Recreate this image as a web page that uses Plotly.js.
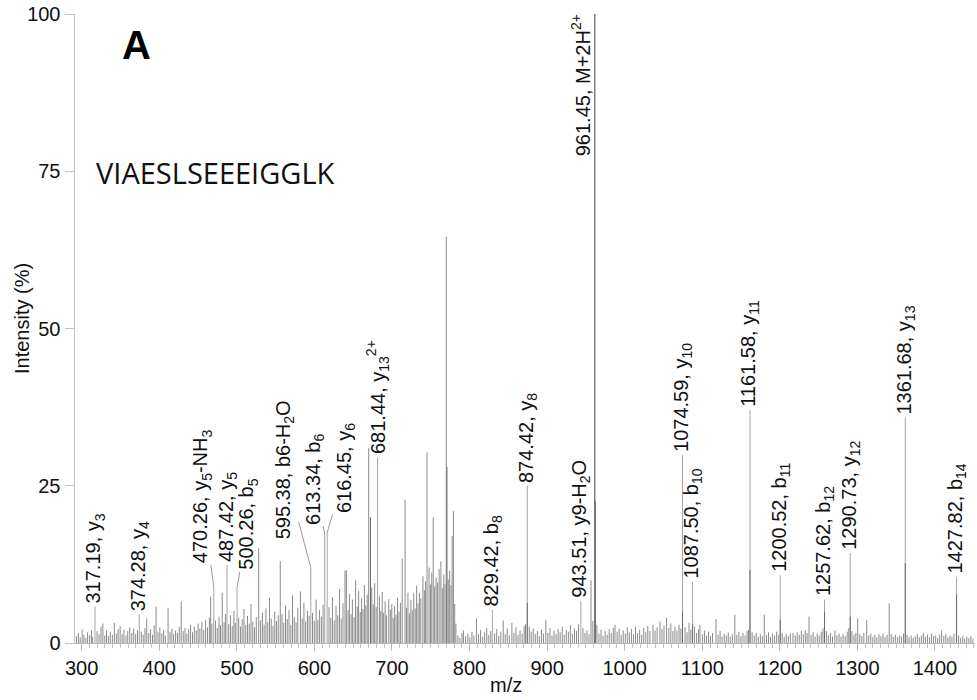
<!DOCTYPE html>
<html>
<head>
<meta charset="utf-8">
<script src="https://cdn.plot.ly/plotly-3.0.1.min.js"></script>
<style>
  html, body { margin: 0; padding: 0; background: #fff; }
  #chart { width: 977px; height: 700px; }
</style>
</head>
<body>
<div id="chart"></div>
<script>
// MS/MS spectrum of the doubly charged precursor of VIAESLSEEEIGGLK

const peptide = 'VIAESLSEEEIGGLK';
const panelTag = 'A';

// Annotated fragment ions (m/z, relative intensity %, ion name)
const ionMz = [317.19, 374.28, 470.26, 487.42, 500.26, 595.38, 613.34, 616.45, 681.44, 829.42, 874.42,
               943.51, 961.45, 1074.59, 1087.50, 1161.58, 1200.52, 1257.62, 1290.73, 1361.68, 1427.82];
const ionInt = [5.8, 4.6, 9.0, 12.4, 8.8, 12.0, 17.3, 17.5, 29.5, 5.3, 25.0,
                6.7, 100, 29.9, 9.7, 37.0, 10.8, 6.9, 14.3, 35.8, 10.5];
const ionName = ['y<sub>3</sub>', 'y<sub>4</sub>', 'y<sub>5</sub>-NH<sub>3</sub>', 'y<sub>5</sub>', 'b<sub>5</sub>',
                 'b6-H<sub>2</sub>O', 'b<sub>6</sub>', 'y<sub>6</sub>', 'y<sub>13</sub><sup>2+</sup>', 'b<sub>8</sub>',
                 'y<sub>8</sub>', 'y9-H<sub>2</sub>O', 'M+2H<sup>2+</sup>', 'y<sub>10</sub>', 'b<sub>10</sub>',
                 'y<sub>11</sub>', 'b<sub>11</sub>', 'b<sub>12</sub>', 'y<sub>12</sub>', 'y<sub>13</sub>', 'b<sub>14</sub>'];

// Centroided signal drawn over the profile
const centMz  = [672.3, 770.9, 874.42, 962.2, 1074.59, 1087.50, 1161.58, 1200.52, 1257.62, 1290.73, 1361.68, 1427.82];
const centInt = [20.0, 28.0, 6.4, 22.6, 5.0, 3.0, 11.6, 3.7, 5.0, 4.2, 12.7, 7.7];

// Unassigned signal (m/z, relative intensity %)
const otherMz = [
  293.2, 295.8, 298.1, 300.6, 302.9, 305.4, 307.7, 310.3, 312.6, 314.1, 319.8, 322.4, 324.9, 327.3, 329.8, 332.0,
  334.5, 336.9, 339.6, 342.1, 344.7, 347.0, 349.6, 352.2, 354.5, 357.1, 359.4, 362.0, 364.6, 367.1, 369.6, 372.0,
  376.9, 379.3, 381.6, 383.9, 386.4, 388.8, 391.3, 393.5, 395.9, 398.4, 400.8, 403.3, 405.7, 408.0, 411.4, 413.9,
  416.3, 418.6, 421.1, 423.5, 425.8, 428.3, 430.9, 433.2, 435.6, 438.0, 440.4, 442.9, 445.2, 447.7, 450.1, 452.4,
  454.9, 457.3, 459.8, 462.2, 464.6, 466.3,
  467.9, 472.6, 474.8, 477.1, 479.0, 481.2, 483.6, 485.3, 489.6, 491.8, 494.1, 496.3, 498.1, 502.4, 504.7, 506.9,
  509.2, 511.5, 513.8, 516.0, 518.3, 520.6, 522.9, 525.1, 528.2, 530.7, 533.0, 535.2, 537.5, 539.8, 542.1, 544.3,
  546.6, 548.9, 551.1, 553.4, 556.0, 558.3, 560.5, 562.8, 565.0, 567.3, 569.6, 571.8, 574.1, 576.4, 578.6, 582.0,
  584.2, 586.5, 588.8, 591.0, 593.2, 597.6, 599.9, 602.2, 604.4, 606.7, 609.0, 611.2, 618.8, 621.1, 623.3, 625.6,
  627.9, 630.1, 632.4, 634.6, 636.9, 639.5,
  641.2, 643.4, 645.1, 647.3, 649.0, 651.2, 653.1, 655.2, 657.0, 659.1, 660.8, 662.6, 664.5, 666.3, 668.1, 670.0,
  674.0, 675.9, 677.7, 679.6, 683.8, 685.6, 687.5, 689.3, 691.2, 693.0, 695.9, 697.9, 699.8, 701.6, 703.4, 705.3,
  707.2, 709.0, 710.9, 713.2, 716.9, 718.8, 720.6, 722.5, 724.4, 726.2, 728.1, 730.0, 731.8, 733.6, 735.3, 737.2,
  739.9, 741.8, 743.4, 745.2, 747.8, 749.6, 751.3, 753.2, 755.1, 756.9, 758.9, 760.8, 763.1, 764.9, 766.8, 768.4,
  770.0, 772.6, 774.4, 776.1, 777.6, 779.2, 780.9, 782.4,
  785.0, 787.6, 790.3, 792.1, 795.0, 797.8, 800.4, 803.1, 805.7, 808.9, 811.6, 814.2, 816.9, 819.5, 822.2, 824.8,
  827.3, 832.4, 835.0, 837.7, 840.3, 843.4, 846.0, 848.6, 851.3, 854.6, 857.2, 859.9, 862.5, 865.1, 867.8, 870.4,
  872.2, 877.0, 879.5, 882.1, 884.8, 887.4, 890.0, 892.7, 895.3, 898.4, 901.0, 903.7, 906.3, 908.9, 911.6, 914.2,
  916.8, 919.5, 922.1, 924.7, 927.4, 930.0, 932.6, 935.3, 937.9, 940.5, 946.2, 948.8, 951.4, 954.0, 956.6, 959.0,
  964.2, 966.8, 969.5, 972.1, 974.8, 977.4, 980.0, 982.7, 985.3, 987.5, 990.2, 992.8, 995.5, 998.1, 1000.8, 1003.4,
  1006.0, 1008.7, 1011.3, 1014.0, 1016.6, 1019.3, 1021.9, 1024.5, 1027.2, 1029.8, 1032.5, 1036.5, 1039.1, 1041.8,
  1045.5, 1048.1, 1050.7, 1054.0, 1056.9, 1059.5, 1062.2, 1064.8, 1067.4, 1070.1, 1072.5, 1077.9, 1080.4, 1083.0,
  1085.3, 1090.1, 1092.7, 1095.3, 1097.0, 1100.2, 1102.8, 1105.4, 1108.1, 1110.7, 1113.3, 1117.7, 1120.4, 1123.0,
  1125.6, 1128.3, 1130.9, 1133.5, 1136.2, 1138.8, 1142.0, 1144.6, 1147.3, 1149.9, 1152.5, 1155.2, 1157.8, 1159.6,
  1164.3, 1167.0, 1169.6, 1172.2, 1174.9, 1177.5, 1180.0, 1182.8, 1185.4, 1188.0, 1190.7, 1193.3, 1195.9, 1198.6,
  1203.0, 1205.6, 1208.2, 1210.9, 1213.5, 1217.0, 1219.8, 1222.4, 1225.0, 1227.7, 1230.3, 1232.9, 1235.2, 1237.6,
  1240.3, 1242.9, 1245.5, 1248.2, 1250.8, 1253.4, 1255.6, 1260.0, 1262.6, 1265.3, 1267.9, 1271.0, 1273.6, 1276.3,
  1278.9, 1281.5, 1284.2, 1286.8, 1288.9, 1293.0, 1295.6, 1298.0, 1300.4, 1303.0, 1305.7, 1308.3, 1312.0, 1314.6,
  1317.2, 1319.9, 1322.5, 1325.1, 1327.8, 1330.4, 1333.0, 1335.7, 1338.3, 1341.0, 1343.6, 1346.2, 1348.9, 1351.5,
  1354.1, 1356.8, 1359.4, 1364.0, 1366.6, 1369.3, 1371.9, 1374.5, 1377.2, 1379.8, 1382.4, 1385.1, 1387.7, 1390.3,
  1393.0, 1395.6, 1398.2, 1400.9, 1403.5, 1406.1, 1408.6, 1411.4, 1414.0, 1416.7, 1419.3, 1421.9, 1424.6, 1430.5,
  1433.1, 1435.8, 1438.4, 1441.0, 1443.7, 1446.3, 1448.9
];
const otherInt = [
  1.1, 1.6, 0.9, 2.2, 1.3, 0.8, 1.7, 1.2, 2.0, 1.0, 1.9, 1.4, 2.6, 3.1, 1.2, 2.0,
  1.1, 1.8, 1.3, 3.2, 1.5, 2.2, 2.7, 1.4, 2.1, 1.2, 1.9, 2.5, 1.6, 2.3, 1.4, 2.0,
  1.8, 1.3, 2.4, 3.9, 1.6, 2.2, 1.3, 2.8, 5.8, 1.7, 2.5, 1.5, 2.1, 1.2, 5.6, 1.8,
  2.3, 1.4, 2.0, 1.6, 2.6, 6.6, 1.9, 2.4, 1.5, 2.2, 2.9, 1.7, 2.6, 2.0, 3.1, 2.3,
  3.4, 2.1, 3.7, 2.5, 4.0, 7.4,
  3.1, 3.6, 2.4, 4.2, 2.8, 8.0, 3.3, 4.6, 3.0, 4.4, 2.7, 5.1, 3.2, 4.0, 2.6, 3.8,
  5.4, 2.9, 4.3, 3.1, 6.2, 3.4, 2.5, 4.1, 15.1, 3.6, 4.8, 2.9, 5.5, 3.3, 7.2, 3.9,
  2.7, 5.0, 3.5, 4.4, 13.0, 4.6, 3.2, 6.0, 3.8, 5.2, 2.9, 7.6, 4.1, 3.3, 5.6, 8.2,
  3.9, 6.4, 3.4, 5.1, 4.3, 4.8, 3.5, 6.9, 3.7, 5.3, 4.2, 6.1, 5.7, 4.0, 7.3, 3.6,
  5.9, 4.4, 8.6, 3.9, 6.3, 11.5,
  11.6, 5.2, 7.8, 4.6, 6.9, 4.1, 10.0, 5.8, 8.3, 4.9, 7.1, 5.4, 9.2, 6.0, 7.7, 31.0,
  8.8, 6.1, 9.5, 5.7, 7.4, 5.1, 8.1, 4.8, 6.6, 4.4, 7.0, 5.3, 6.2, 4.0, 5.9, 4.5,
  7.2, 5.0, 6.4, 13.4, 22.8, 5.6, 8.0, 4.7, 6.8, 5.2, 7.9, 5.5, 9.1, 6.3, 8.0, 7.1,
  10.6, 8.4, 9.8, 30.3, 12.0, 9.3, 11.2, 20.0, 9.0, 10.4, 9.6, 11.8, 13.0, 8.7, 10.9, 9.4,
  64.6, 10.1, 11.5, 9.2, 17.0, 21.0, 6.2, 3.1,
  1.2, 0.8, 1.6, 2.0, 1.1, 1.5, 0.9, 1.8, 1.2, 3.9, 1.4, 2.1, 1.0, 1.7, 2.4, 1.3,
  1.9, 1.5, 2.2, 1.1, 1.8, 3.6, 1.4, 2.3, 1.2, 3.2, 1.6, 2.5, 1.3, 2.0, 1.5, 2.7,
  3.0, 2.6, 1.8, 2.3, 1.4, 1.9, 1.1, 2.1, 1.5, 3.7, 1.6, 2.4, 1.2, 2.0, 1.4, 2.2,
  1.7, 2.6, 1.3, 2.1, 1.8, 2.8, 1.5, 2.3, 1.9, 3.0, 2.4, 1.6, 2.0, 1.4, 10.0, 3.5,
  2.9, 1.5, 2.1, 1.1, 1.9, 1.3, 2.2, 1.6, 2.4, 2.9, 1.8, 2.3, 1.3, 2.0, 1.5, 2.5,
  1.7, 2.2, 1.4, 2.6, 1.6, 2.1, 1.3, 2.4, 1.8, 2.7, 1.9, 2.9, 2.0, 2.5,
  3.4, 2.2, 2.8, 4.0, 2.4, 3.1, 1.9, 2.6, 2.0, 2.9, 2.3, 2.5, 1.7, 3.2,
  2.1, 2.6, 1.6, 2.2, 2.9, 1.4, 2.0, 1.2, 1.8, 1.1, 1.6, 3.8, 1.3, 1.9,
  1.0, 1.5, 1.2, 1.7, 1.0, 1.4, 4.5, 1.3, 1.8, 1.1, 1.6, 1.2, 1.9, 2.1,
  1.7, 1.2, 1.6, 1.0, 1.4, 1.1, 4.5, 1.3, 1.7, 1.0, 1.5, 1.2, 1.8, 1.3,
  1.6, 1.0, 1.4, 1.1, 1.5, 1.6, 1.2, 1.7, 1.3, 1.9, 1.4, 2.0, 1.6, 4.2,
  1.3, 1.7, 1.0, 1.5, 1.2, 1.8, 2.3, 1.9, 1.2, 1.6, 1.0, 2.0, 1.2, 1.5,
  1.0, 1.4, 1.1, 1.8, 2.4, 1.9, 1.3, 1.6, 3.9, 1.4, 1.1, 1.6, 3.6, 1.2,
  1.5, 1.0, 1.3, 0.9, 1.4, 1.1, 1.5, 1.0, 1.3, 6.3, 1.4, 1.0, 1.3, 0.9,
  1.2, 1.0, 1.5, 1.3, 0.9, 1.2, 0.8, 1.1, 1.4, 0.9, 1.2, 1.6, 1.0, 1.3,
  0.9, 1.5, 1.1, 1.2, 0.8, 1.3, 2.0, 1.1, 1.4, 0.9, 1.2, 1.0, 1.5, 1.2,
  0.8, 1.1, 0.7, 1.0, 0.8, 1.1, 0.7
];

// Label placement: pixel offsets for labels pulled aside with a leader line
const leaderOffsets = {
  '470.26': [-12, -90],
  '500.26': [11, -63],
  '595.38': [-26, -98],
  '613.34': [-11, -55],
  '616.45': [19, -65]
};

const FONT = 'Liberation Sans, Arial, Helvetica, sans-serif';

// Turn peak lists into vertical sticks from the baseline
function sticks(mz, inten) {
  const x = [], y = [];
  mz.forEach((m, i) => { x.push(m, m, null); y.push(0, inten[i], null); });
  return { x, y };
}

const other = sticks(otherMz, otherInt);
const ions = sticks(ionMz, ionInt);
const cent = sticks(centMz, centInt);
const baseIdx = ionInt.indexOf(Math.max(...ionInt));
const base = sticks([ionMz[baseIdx]], [ionInt[baseIdx]]);

const traces = [
  { type: 'scatter', mode: 'lines', x: other.x, y: other.y, connectgaps: false,
    line: { color: '#8a8a8a', width: 1 }, hoverinfo: 'skip' },
  { type: 'scatter', mode: 'lines', x: ions.x, y: ions.y, connectgaps: false,
    line: { color: '#a4a4a4', width: 1 }, hoverinfo: 'skip' },
  { type: 'scatter', mode: 'lines', x: cent.x, y: cent.y, connectgaps: false,
    line: { color: '#6a6a6a', width: 1 }, hoverinfo: 'skip' },
  { type: 'scatter', mode: 'lines', x: base.x, y: base.y, connectgaps: false,
    line: { color: '#666666', width: 1 }, hoverinfo: 'skip' }
];

// Peak labels
const annotations = ionMz.map((m, i) => {
  const text = m.toFixed(2) + ', ' + ionName[i];
  const base = { x: m, y: ionInt[i], xref: 'x', yref: 'y', text: text, textangle: -90,
                 font: { family: FONT, size: 20, color: '#111' } };
  const key = m.toFixed(2);
  if (leaderOffsets[key]) {
    return Object.assign(base, { showarrow: true, arrowhead: 0, arrowwidth: 1, arrowcolor: '#9a9a9a',
      ax: leaderOffsets[key][0], ay: leaderOffsets[key][1], standoff: 0 });
  }
  if (i === baseIdx) {
    return Object.assign(base, { showarrow: false, xanchor: 'right', yanchor: 'top', xshift: 0, yshift: 2 });
  }
  return Object.assign(base, { showarrow: false, xanchor: 'center', yanchor: 'bottom', yshift: 1 });
});

annotations.push(
  { text: '<b>' + panelTag + '</b>', xref: 'paper', yref: 'paper', x: 0.0678, y: 0.9515,
    xanchor: 'center', yanchor: 'middle', showarrow: false,
    font: { family: FONT, size: 40, color: '#000' } },
  { text: peptide, xref: 'paper', yref: 'paper', x: 0.021, y: 0.7488,
    xanchor: 'left', yanchor: 'middle', showarrow: false,
    font: { family: 'Open Sans, Noto Sans, sans-serif', size: 29, color: '#111' } },
  { text: 'Intensity (%)', xref: 'paper', yref: 'paper', x: -0.0589, y: 0.5167, textangle: -90,
    xanchor: 'center', yanchor: 'middle', showarrow: false,
    font: { family: FONT, size: 20, color: '#111' } },
  { text: 'm/z', xref: 'paper', yref: 'paper', x: 0.4794, y: -0.0668,
    xanchor: 'center', yanchor: 'middle', showarrow: false,
    font: { family: FONT, size: 20, color: '#111' } }
);

const layout = {
  width: 977, height: 700,
  margin: { l: 75, r: 2, t: 14, b: 57, pad: 0 },
  paper_bgcolor: '#fff', plot_bgcolor: '#fff',
  showlegend: false,
  hovermode: false,
  font: { family: FONT, size: 20, color: '#111' },
  xaxis: {
    range: [291.4, 1451.6], tick0: 0, dtick: 100,
    showgrid: false, zeroline: false,
    showline: true, linecolor: '#b8b8b8', linewidth: 1,
    ticks: 'outside', ticklen: 7, tickcolor: '#b8b8b8', tickwidth: 1,
    minor: { dtick: 10, ticks: 'outside', ticklen: 4, tickcolor: '#c4c4c4', tickwidth: 1, showgrid: false },
    tickfont: { family: FONT, size: 20, color: '#111' }
  },
  yaxis: {
    range: [0, 100], tickvals: [0, 25, 50, 75, 100],
    showgrid: false, zeroline: false,
    showline: true, linecolor: '#c4c4c4', linewidth: 1.5,
    ticks: 'outside', ticklen: 9, tickcolor: '#c4c4c4', tickwidth: 1,
    tickfont: { family: FONT, size: 20, color: '#111' }
  },
  annotations: annotations
};

Plotly.newPlot('chart', traces, layout, { staticPlot: true, displayModeBar: false });
</script>
</body>
</html>
